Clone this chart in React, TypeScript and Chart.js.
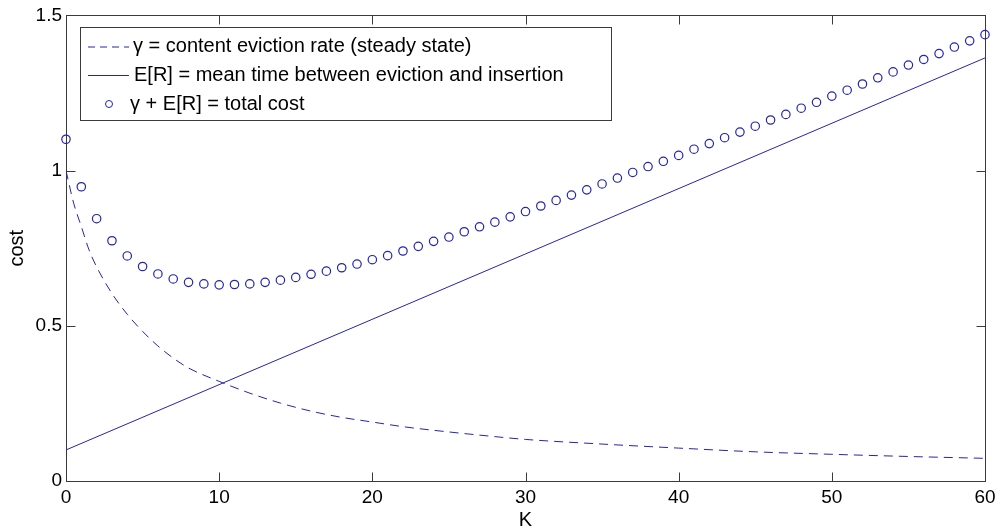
import React, { useEffect, useRef } from "react";
import { Chart, registerables } from "chart.js";

Chart.register(...registerables);

// ---- data ----
const kValues = [
  0, 1, 2, 3, 4, 5, 6, 7, 8, 9, 10, 11, 12, 13, 14, 15, 16, 17, 18, 19, 20,
  21, 22, 23, 24, 25, 26, 27, 28, 29, 30, 31, 32, 33, 34, 35, 36, 37, 38, 39, 40,
  41, 42, 43, 44, 45, 46, 47, 48, 49, 50, 51, 52, 53, 54, 55, 56, 57, 58, 59, 60,
];
const totalCost = [
  1.101, 0.948, 0.845, 0.774, 0.725, 0.691, 0.667, 0.651, 0.64, 0.635, 0.632,
  0.633, 0.635, 0.64, 0.647, 0.656, 0.666, 0.676, 0.687, 0.699, 0.713,
  0.726, 0.741, 0.756, 0.772, 0.786, 0.803, 0.819, 0.834, 0.851, 0.868,
  0.886, 0.904, 0.921, 0.938, 0.957, 0.976, 0.994, 1.013, 1.03, 1.049,
  1.069, 1.087, 1.106, 1.124, 1.143, 1.163, 1.181, 1.201, 1.22, 1.24,
  1.259, 1.279, 1.299, 1.318, 1.34, 1.358, 1.377, 1.398, 1.418, 1.438,
];
const gammaK = [
  0, 0.5, 1, 1.5, 2, 3, 4, 5, 6, 7, 8, 10, 12, 14, 16, 18, 20, 22, 25, 28, 30,
  35, 40, 45, 50, 55, 60,
];
const gammaV = [
  1.0, 0.895, 0.82, 0.745, 0.69, 0.604, 0.537, 0.482, 0.435, 0.396, 0.364,
  0.321, 0.283, 0.251, 0.225, 0.205, 0.19, 0.175, 0.158, 0.143, 0.134, 0.119,
  0.106, 0.094, 0.086, 0.079, 0.073,
];
const meanTimeK = [0, 60];
const meanTimeV = [0.1, 1.363];

const xTickValues = [0, 10, 20, 30, 40, 50, 60];
const yTickValues = [0, 0.5, 1, 1.5];
const legendLabels = [
  "\u03b3 = content eviction rate (steady state)",
  "E[R] = mean time between eviction and insertion",
  "\u03b3 + E[R] = total cost",
];
const xTitle = "K";
const yTitle = "cost";

const BLUE = "rgb(36,36,176)";
const AXIS = "#3a3a3a";
const FONT = "'Liberation Sans', Arial, sans-serif";

const framePlugin = {
  id: "matlabFrame",
  beforeDatasetsDraw(chart: any) {
    const { ctx, chartArea } = chart;
    const l = Math.round(chartArea.left) + 0.5;
    const r = Math.round(chartArea.right) + 0.5;
    const t = Math.round(chartArea.top) + 0.5;
    const b = Math.round(chartArea.bottom) + 0.5;
    const tl = 9;
    ctx.save();
    ctx.strokeStyle = AXIS;
    ctx.lineWidth = 1;
    ctx.setLineDash([]);
    ctx.strokeRect(l, t, r - l, b - t);
    ctx.beginPath();
    const xs = chart.scales.x;
    xTickValues.forEach((v) => {
      const px = Math.round(xs.getPixelForValue(v)) + 0.5;
      ctx.moveTo(px, b);
      ctx.lineTo(px, b - tl);
      ctx.moveTo(px, t);
      ctx.lineTo(px, t + tl);
    });
    const ys = chart.scales.y;
    yTickValues.forEach((v) => {
      const py = Math.round(ys.getPixelForValue(v)) + 0.5;
      ctx.moveTo(l, py);
      ctx.lineTo(l + tl, py);
      ctx.moveTo(r, py);
      ctx.lineTo(r - tl, py);
    });
    ctx.stroke();
    ctx.restore();
  },
};

const legendPlugin = {
  id: "matlabLegend",
  afterDraw(chart: any) {
    const { ctx } = chart;
    const bx = 80.5, by = 27.5, bw = 531, bh = 93;
    ctx.save();
    ctx.fillStyle = "#fff";
    ctx.fillRect(bx, by, bw, bh);
    ctx.strokeStyle = AXIS;
    ctx.lineWidth = 1;
    ctx.strokeRect(bx, by, bw, bh);
    const rows = [46.5, 75, 104];
    ctx.strokeStyle = BLUE;
    // dashed sample
    ctx.setLineDash([7, 5]);
    ctx.beginPath();
    ctx.moveTo(88, rows[0] + 0.5);
    ctx.lineTo(129, rows[0] + 0.5);
    ctx.stroke();
    // solid sample
    ctx.setLineDash([]);
    ctx.beginPath();
    ctx.moveTo(88, rows[1] + 0.5);
    ctx.lineTo(129, rows[1] + 0.5);
    ctx.stroke();
    // circle sample
    ctx.beginPath();
    ctx.arc(109, rows[2], 3.5, 0, Math.PI * 2);
    ctx.stroke();
    ctx.fillStyle = "#000";
    ctx.font = `20px ${FONT}`;
    ctx.textBaseline = "middle";
    ctx.textAlign = "left";
    ctx.fillText(legendLabels[0], 133, rows[0]);
    ctx.fillText(legendLabels[1], 134, rows[1]);
    ctx.fillText(legendLabels[2], 130, rows[2]);
    ctx.restore();
  },
};

export default function App() {
  const canvasRef = useRef<HTMLCanvasElement | null>(null);

  useEffect(() => {
    const canvas = canvasRef.current;
    if (!canvas) return;
    const tickFont = { family: FONT, size: 19 };
    const titleFont = { family: FONT, size: 20 };
    const chart = new Chart(canvas, {
      type: "scatter",
      data: {
        datasets: [
          {
            label: legendLabels[0],
            data: gammaK.map((k, i) => ({ x: k, y: gammaV[i] })),
            showLine: true,
            borderColor: BLUE,
            borderWidth: 1,
            borderDash: [9, 6],
            pointRadius: 0,
            cubicInterpolationMode: "monotone",
            fill: false,
          },
          {
            label: legendLabels[1],
            data: meanTimeK.map((k, i) => ({ x: k, y: meanTimeV[i] })),
            showLine: true,
            borderColor: BLUE,
            borderWidth: 1,
            pointRadius: 0,
            fill: false,
          },
          {
            label: legendLabels[2],
            data: kValues.map((k, i) => ({ x: k, y: totalCost[i] })),
            showLine: false,
            borderColor: BLUE,
            backgroundColor: "rgba(0,0,0,0)",
            pointBorderWidth: 1.2,
            pointRadius: 4.2,
            pointStyle: "circle",
            clip: false,
          } as any,
        ],
      },
      options: {
        responsive: false,
        animation: false,
        devicePixelRatio: 1,
        layout: { padding: { left: 0, right: 16, top: 14, bottom: 0 } },
        plugins: {
          legend: { display: false },
          tooltip: { enabled: false },
        },
        scales: {
          x: {
            type: "linear",
            min: 0,
            max: 60,
            afterBuildTicks: (s: any) => {
              s.ticks = xTickValues.map((v) => ({ value: v }));
            },
            afterFit: (s: any) => {
              s.height = 51;
            },
            ticks: {
              color: "#000",
              font: tickFont,
              padding: 5,
              maxRotation: 0,
              autoSkip: false,
              callback: (v: any) => String(v),
            },
            grid: { display: false, drawTicks: false },
            border: { display: false },
            title: {
              display: true,
              text: xTitle,
              color: "#000",
              font: titleFont,
              padding: { top: 0, bottom: 0 },
            },
          },
          y: {
            type: "linear",
            min: 0,
            max: 1.5,
            afterBuildTicks: (s: any) => {
              s.ticks = yTickValues.map((v) => ({ value: v }));
            },
            afterFit: (s: any) => {
              s.width = 66;
            },
            ticks: {
              color: "#000",
              font: tickFont,
              padding: 4,
              autoSkip: false,
              callback: (v: any) => String(v),
            },
            grid: { display: false, drawTicks: false },
            border: { display: false },
            title: {
              display: true,
              text: yTitle,
              color: "#000",
              font: titleFont,
              padding: { top: 5, bottom: 0 },
            },
          },
        },
      } as any,
      plugins: [framePlugin, legendPlugin],
    });
    return () => chart.destroy();
  }, []);

  return (
    <div
      style={{
        position: "fixed",
        left: 0,
        top: 0,
        width: 1001,
        height: 532,
        background: "#fff",
      }}
    >
      <canvas
        ref={canvasRef}
        width={1001}
        height={532}
        style={{ width: 1001, height: 532, display: "block" }}
      />
    </div>
  );
}
